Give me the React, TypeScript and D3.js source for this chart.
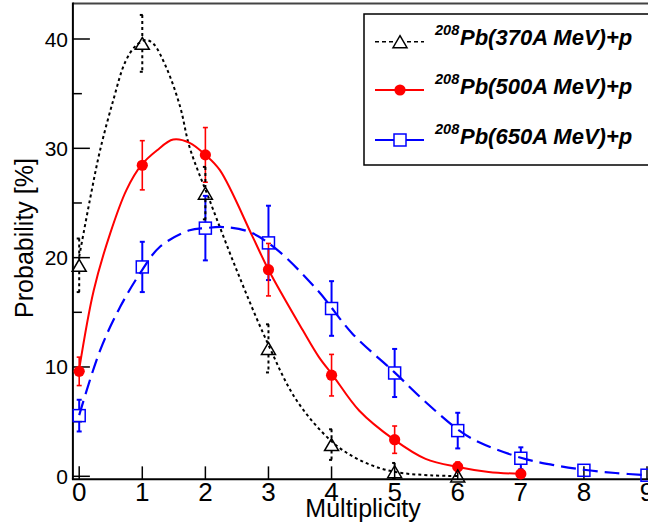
import React from "react";
import * as d3 from "d3";

// ---- data ----
const mult370 = [0, 1, 2, 3, 4, 5, 6];
const prob370 = [19.3, 39.6, 25.9, 11.7, 2.9, 0.42, 0.03];
const err370 = [2.45, 2.6, 2.4, 2.2, 1.4, 0.8, 0.3];

const mult500 = [0, 1, 2, 3, 4, 5, 6, 7];
const prob500 = [9.6, 28.45, 29.4, 18.9, 9.25, 3.35, 0.86, 0.22];
const err500 = [1.3, 2.25, 2.5, 2.4, 1.9, 1.25, 0.45, 0.2];

const mult650 = [0, 1, 2, 3, 4, 5, 6, 7, 8, 9];
const prob650 = [5.55, 19.15, 22.7, 21.35, 15.35, 9.45, 4.18, 1.65, 0.55, 0.1];
const err650 = [1.45, 2.3, 2.95, 3.4, 2.5, 2.2, 1.63, 1.0, 0.25, 0.1];

// fitted curves
const fit370X = [0, 0.17, 0.33, 0.54, 0.73, 0.9, 1.05, 1.17, 1.38, 1.6, 1.75, 2.07, 2.5, 2.97, 3.44, 4.0, 4.44, 4.96, 5.6, 6.0];
const fit370Y = [20.1, 25.3, 29.8, 34.4, 37.9, 39.4, 39.9, 39.6, 37.4, 33.8, 30.1, 25.2, 18.8, 12.4, 7.0, 3.2, 1.5, 0.45, 0.08, 0.03];

const fit500X = [0, 0.23, 0.49, 0.75, 0.99, 1.23, 1.49, 1.75, 2.0, 2.23, 2.75, 3.0, 3.54, 3.8, 4.02, 4.44, 4.99, 5.49, 6.0, 6.49, 7.0];
const fit500Y = [9.8, 17.0, 22.2, 26.2, 28.5, 29.8, 30.8, 30.5, 29.4, 28.0, 21.9, 18.9, 13.4, 10.9, 9.24, 6.0, 3.36, 1.6, 0.85, 0.4, 0.22];

const fit650X = [0, 0.33, 0.65, 0.99, 1.28, 1.75, 2.0, 2.28, 2.7, 3.12, 3.78, 4.33, 4.99, 5.49, 6.02, 6.33, 7.0, 7.5, 8.0, 8.5, 9.0];
const fit650Y = [5.6, 11.5, 15.5, 18.8, 21.0, 22.5, 22.7, 22.8, 22.35, 20.8, 17.0, 13.05, 9.55, 6.8, 4.2, 3.14, 1.7, 1.05, 0.6, 0.3, 0.1];

const xTicks = [0, 1, 2, 3, 4, 5, 6, 7, 8, 9];
const yMajor = [0, 10, 20, 30, 40];
const yMinor = [5, 15, 25, 35];

const legendLabels = ["Pb(370A MeV)+p", "Pb(500A MeV)+p", "Pb(650A MeV)+p"];
const legendSup = "208";

const FONT = "'Liberation Sans', Arial, Helvetica, sans-serif";

export default function App() {
  const W = 648, H = 530;
  const x = d3.scaleLinear().domain([0, 9]).range([79.2, 647]);
  const y = d3.scaleLinear().domain([0, 40]).range([476.3, 39]);
  const left = x(-0.1);
  const bottom = y(-0.28);
  const top = 3.5;

  const line = (xs: number[], ys: number[]) =>
    d3.line<number>().x((_, i) => x(xs[i])).y((d) => y(d)).curve(d3.curveCatmullRom.alpha(0.5))(ys) || "";

  const errBars = (xs: number[], ys: number[], es: number[], color: string, sw: number, dash: string | undefined, gap: number) =>
    xs.map((xv, i) => {
      const cx = x(xv), cy = y(ys[i]);
      const yt = y(ys[i] + es[i]), yb = y(Math.max(ys[i] - es[i], -0.25));
      const segs: [number, number][] = [];
      if (cy - gap > yt) segs.push([yt, cy - gap]);
      if (cy + gap < yb) segs.push([cy + gap, yb]);
      return (
        <g key={i} stroke={color} strokeWidth={sw} strokeDasharray={dash} fill="none">
          {segs.map((s, j) => <line key={j} x1={cx} x2={cx} y1={s[0]} y2={s[1]} />)}
          {yt < cy - gap && <line x1={cx - 2.5} x2={cx + 2.5} y1={yt} y2={yt} strokeDasharray={undefined} />}
          {yb > cy + gap && <line x1={cx - 2.5} x2={cx + 2.5} y1={yb} y2={yb} strokeDasharray={undefined} />}
        </g>
      );
    });

  const tri = (cx: number, cy: number, k: any) => (
    <path key={k} d={`M${cx},${cy - 6} L${cx + 7},${cy + 6} L${cx - 7},${cy + 6} Z`} fill="none" stroke="#000" strokeWidth={1.5} />
  );
  const sq = (cx: number, cy: number, k: any) => (
    <rect key={k} x={cx - 6} y={cy - 6} width={12} height={12} fill="none" stroke="#0000ff" strokeWidth={1.5} />
  );
  const circ = (cx: number, cy: number, k: any) => <circle key={k} cx={cx} cy={cy} r={5.6} fill="#ff0000" />;

  const legRows = [41.7, 90, 140];
  const legBase = [45, 94, 144];

  return (
    <svg width={W} height={H} style={{ position: "absolute", left: 0, top: 0, background: "#fff" }} fontFamily={FONT}>
      <rect x={0} y={0} width={W} height={H} fill="#fff" />
      {/* frame */}
      <line x1={left} x2={W} y1={top} y2={top} stroke="#444" strokeWidth={2} />
      <line x1={left} x2={left} y1={top - 1} y2={bottom} stroke="#000" strokeWidth={2} />
      <line x1={left - 1} x2={W} y1={bottom} y2={bottom} stroke="#000" strokeWidth={2} />

      {/* y ticks */}
      {yMajor.map((v) => (
        <g key={"ym" + v}>
          <line x1={left} x2={left + 17} y1={y(v)} y2={y(v)} stroke="#000" strokeWidth={1.5} />
          <text x={68} y={y(v) + 7.5} textAnchor="end" fontSize={21} fill="#000">{v}</text>
        </g>
      ))}
      {yMinor.map((v) => (
        <line key={"yn" + v} x1={left} x2={left + 9} y1={y(v)} y2={y(v)} stroke="#000" strokeWidth={1.5} />
      ))}
      {/* x ticks */}
      {xTicks.map((v) => (
        <g key={"x" + v}>
          <line x1={x(v)} x2={x(v)} y1={bottom} y2={bottom - 13} stroke="#000" strokeWidth={1.5} />
          <text x={x(v)} y={501} textAnchor="middle" fontSize={26} fill="#000">{v}</text>
        </g>
      ))}
      <text x={363} y={517} textAnchor="middle" fontSize={25} fill="#000">Multiplicity</text>
      <text transform={`translate(33,238) rotate(-90)`} textAnchor="middle" fontSize={25} fill="#000">Probability [%]</text>

      {/* curves */}
      <path d={line(fit370X, fit370Y)} fill="none" stroke="#000" strokeWidth={2} strokeDasharray="3,3" />
      <path d={line(fit500X, fit500Y)} fill="none" stroke="#ff0000" strokeWidth={2} />
      <path d={line(fit650X, fit650Y)} fill="none" stroke="#0000ff" strokeWidth={2.2} strokeDasharray="15,7" />

      {/* error bars */}
      {errBars(mult650, prob650, err650, "#0000ff", 2, undefined, 6)}
      {errBars(mult500, prob500, err500, "#ff0000", 1.6, undefined, 0)}
      {errBars(mult370, prob370, err370, "#000", 2, "3,3", 6)}

      {/* markers */}
      {mult650.map((v, i) => sq(x(v), y(prob650[i]), "s" + i))}
      {mult500.map((v, i) => circ(x(v), y(prob500[i]), "c" + i))}
      {mult370.map((v, i) => tri(x(v), y(prob370[i]), "t" + i))}

      {/* legend */}
      <rect x={364} y={14} width={300} height={151} fill="#fff" stroke="#000" strokeWidth={1.5} />
      <line x1={375} x2={393} y1={legRows[0]} y2={legRows[0]} stroke="#000" strokeWidth={1.5} strokeDasharray="4,3" />
      <line x1={407} x2={424} y1={legRows[0]} y2={legRows[0]} stroke="#000" strokeWidth={1.5} strokeDasharray="4,3" />
      {tri(400, legRows[0], "lt")}
      <line x1={375} x2={424} y1={legRows[1]} y2={legRows[1]} stroke="#ff0000" strokeWidth={2} />
      {circ(400, legRows[1], "lc")}
      <line x1={375} x2={394} y1={legRows[2]} y2={legRows[2]} stroke="#0000ff" strokeWidth={2} />
      <line x1={406} x2={424} y1={legRows[2]} y2={legRows[2]} stroke="#0000ff" strokeWidth={2} />
      {sq(400, legRows[2], "ls")}
      {legendLabels.map((t, i) => (
        <g key={"lg" + i} fontWeight="bold" fontStyle="italic" fill="#000">
          <text x={435} y={legBase[i] - 10} fontSize={14.5}>{legendSup}</text>
          <text x={460} y={legBase[i]} fontSize={22}>{t}</text>
        </g>
      ))}
    </svg>
  );
}
